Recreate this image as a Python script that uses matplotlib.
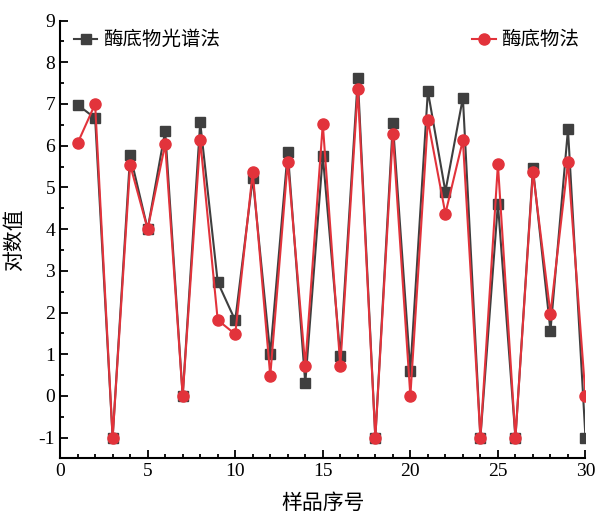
import numpy as np
import matplotlib.pyplot as plt
from matplotlib.ticker import MultipleLocator

plt.rcParams['font.family'] = ['Liberation Serif', 'Noto Sans CJK SC']
plt.rcParams['axes.unicode_minus'] = False

samples = np.arange(1, 31)
spectral = [6.98, 6.66, -1, 5.78, 4.0, 6.36, 0, 6.56, 2.73, 1.81,
            5.22, 1.0, 5.86, 0.30, 5.76, 0.95, 7.62, -1, 6.54, 0.6,
            7.31, 4.90, 7.15, -1, 4.61, -1, 5.46, 1.56, 6.39, -1]
substrate = [6.06, 7.0, -1, 5.54, 4.0, 6.04, 0, 6.14, 1.82, 1.48,
             5.37, 0.48, 5.62, 0.72, 6.52, 0.72, 7.36, -1, 6.28, 0,
             6.61, 4.37, 6.13, -1, 5.55, -1, 5.37, 1.97, 5.61, 0]

fig = plt.figure(figsize=(5.95, 5.14), dpi=100)
ax = fig.add_axes([0.101, 0.108, 0.883, 0.852])

l1, = ax.plot(samples, spectral, '-s', color='#3f3f3f', lw=1.5, markersize=7,
              label='酶底物光谱法')
l2, = ax.plot(samples, substrate, '-o', color='#e2333b', lw=1.5, markersize=8,
              label='酶底物法')

ax.set_xlim(0, 30)
ax.set_ylim(-1.5, 9)
ax.xaxis.set_major_locator(MultipleLocator(5))
ax.xaxis.set_minor_locator(MultipleLocator(1))
ax.yaxis.set_major_locator(MultipleLocator(1))
ax.yaxis.set_minor_locator(MultipleLocator(0.5))
ax.tick_params(which='both', direction='in', labelsize=14, width=1.3)
ax.tick_params(which='major', length=6)
ax.tick_params(which='minor', length=3)
for s in ['top', 'right']:
    ax.spines[s].set_visible(False)
for s in ['left', 'bottom']:
    ax.spines[s].set_linewidth(1.5)

ax.set_xlabel('样品序号', fontsize=15, family=['Noto Sans CJK SC'], labelpad=8)
ax.set_ylabel('对数值', fontsize=15, family=['Noto Sans CJK SC'], labelpad=10)

leg1 = ax.legend(handles=[l1], loc='upper left', bbox_to_anchor=(0.01, 1.0),
                 frameon=False, prop={'family': 'Noto Sans CJK SC', 'size': 14},
                 handlelength=1.2, handletextpad=0.3, borderaxespad=0.05)
ax.add_artist(leg1)
ax.legend(handles=[l2], loc='upper right', bbox_to_anchor=(1.005, 1.0),
          frameon=False, prop={'family': 'Noto Sans CJK SC', 'size': 14},
          handlelength=1.2, handletextpad=0.3, borderaxespad=0.05)

fig.savefig('out.png', dpi=100)
